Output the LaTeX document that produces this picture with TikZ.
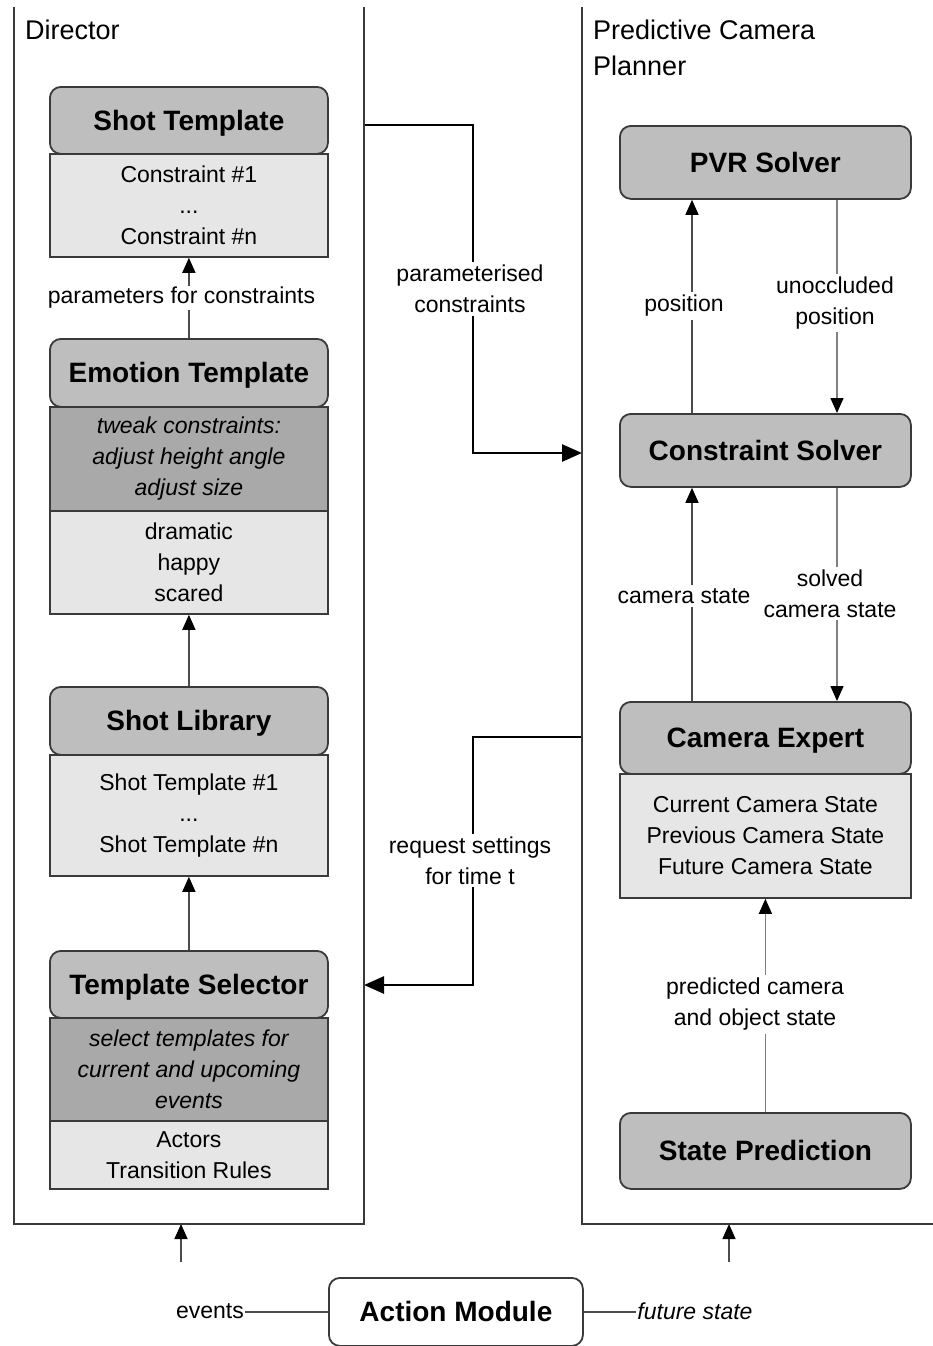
\documentclass[tikz,border=0pt]{standalone}
\usepackage{fontspec}
\setmainfont{Liberation Sans}
\usetikzlibrary{arrows.meta}
\pgfdeclarelayer{bg}
\pgfsetlayers{bg,main}

\definecolor{hdr}{HTML}{BEBEBE}
\definecolor{darkfill}{HTML}{A9A9A9}
\definecolor{lightfill}{HTML}{E6E6E6}
\definecolor{edge}{HTML}{3A3A3A}

\begin{document}
\begin{tikzpicture}[x=1pt,y=-1pt,
  every node/.style={inner sep=0pt},
  head/.style={draw=edge, line width=1.8pt, fill=hdr, rounded corners=11pt,
    anchor=north west, text height=20pt, text depth=0pt,
    font=\fontsize{28}{32}\selectfont\bfseries},
  body/.style={draw=edge, line width=1.8pt, fill=lightfill, anchor=north west,
    align=center, font=\fontsize{23}{31}\selectfont},
  note/.style={body, fill=darkfill, font=\fontsize{23}{31}\selectfont\itshape},
  lbl/.style={fill=white, align=center, inner sep=3pt, font=\fontsize{23}{31}\selectfont},
  title/.style={anchor=north west, align=left, font=\fontsize{27}{36}\selectfont},
  frame/.style={draw=edge, line width=1.8pt},
  plain/.style={line width=1.4pt, draw=black!70},
  conn/.style={plain, -{Triangle[length=15pt,width=13pt,color=black]}},
  connlt/.style={conn, draw=black!50},
  bold/.style={line width=2.6pt, draw=black, -{Triangle[length=20pt,width=17pt]}}
]
\useasboundingbox (0,0) rectangle (933,1346);

% frames of the two subsystems
\draw[frame] (14,7) -- (14,1224) -- (364,1224) -- (364,7);
\draw[frame] (933,1224) -- (582,1224) -- (582,7);
\node[title] (dir) at (25,20) {Director};
\node[title] (pcp) at (593,20) {Predictive Camera\\Planner};

% points on the frames
\coordinate (dirout) at (364,125);
\coordinate (dirin)  at (364,985);
\coordinate (pcpin)  at (582,453);
\coordinate (pcpout) at (582,737);
\coordinate (dirbot) at (181,1224);
\coordinate (pcpbot) at (729,1224);
\coordinate (evtop)  at (181,1262);
\coordinate (fstop)  at (729,1262);
\coordinate (xa) at (692,0);
\coordinate (xb) at (837,0);
\coordinate (xe) at (473,0);

% Director column
\node[body, minimum width=278, minimum height=103] (stb) at (49,153) {Constraint \#1\\...\\Constraint \#n};
\node[head, minimum width=278, minimum height=67] (st) at (49,86) {Shot Template};

\node[body, minimum width=278, minimum height=103] (emb) at (49,510) {dramatic\\happy\\scared};
\node[note, minimum width=278, minimum height=104] (emn) at (49,406) {tweak constraints:\\adjust height angle\\adjust size};
\node[head, minimum width=278, minimum height=68] (em) at (49,338) {Emotion Template};

\node[body, minimum width=278, minimum height=121] (slb) at (49,754) {Shot Template \#1\\...\\Shot Template \#n};
\node[head, minimum width=278, minimum height=68] (sl) at (49,686) {Shot Library};

\node[body, minimum width=278, minimum height=68] (tsb) at (49,1120) {Actors\\Transition Rules};
\node[note, minimum width=278, minimum height=103] (tsn) at (49,1017) {select templates for\\current and upcoming\\events};
\node[head, minimum width=278, minimum height=67] (ts) at (49,950) {Template Selector};

% Predictive camera planner column
\node[head, minimum width=291, minimum height=73] (pvr) at (619,125) {PVR Solver};
\node[head, minimum width=291, minimum height=73] (cs) at (619,413) {Constraint Solver};
\node[body, minimum width=291, minimum height=124] (ceb) at (619,773) {Current Camera State\\Previous Camera State\\Future Camera State};
\node[head, minimum width=291, minimum height=72] (ce) at (619,701) {Camera Expert};
\node[head, minimum width=291, minimum height=76] (sp) at (619,1112) {State Prediction};

% action module
\node[head, fill=white, minimum width=254, minimum height=68] (am) at (328,1277) {Action Module};

% connector labels
\node[lbl, inner sep=1.5pt] (l1) at (181.5,298) {parameters for constraints};
\node[lbl] (l2) at (470,289) {parameterised\\constraints};
\node[lbl] (l3) at (470,860.5) {request settings\\for time t};
\node[lbl] (l4) at (684,306) {position};
\node[lbl] (l5) at (835,303) {unoccluded\\position};
\node[lbl] (l6) at (684,596) {camera state};
\node[lbl] (l7) at (830,593.5) {solved\\camera state};
\node[lbl] (l8) at (755,1004.5) {predicted camera\\and object state};
\node[lbl, inner sep=1pt] (l9) at (210,1311) {events};
\node[lbl, inner sep=1pt, font=\fontsize{23}{31}\selectfont\itshape] (l10) at (695,1311) {future state};

\begin{pgfonlayer}{bg}
  \draw[conn] (em.north) -- (stb.south);
  \draw[conn] (sl.north) -- (emb.south);
  \draw[conn] (ts.north) -- (slb.south);
  \draw[conn] (cs.north -| xa) -- (pvr.south -| xa);
  \draw[connlt] (pvr.south -| xb) -- (cs.north -| xb);
  \draw[conn] (ce.north -| xa) -- (cs.south -| xa);
  \draw[connlt] (cs.south -| xb) -- (ce.north -| xb);
  \draw[connlt] (sp.north) -- (ceb.south);
  \draw[bold] (dirout) -- (dirout -| xe) -- (xe |- pcpin) -- (pcpin);
  \draw[bold] (pcpout) -- (pcpout -| xe) -- (xe |- dirin) -- (dirin);
  \draw[plain] (am.west) -- (am.west -| l9.east);
  \draw[conn] (evtop) -- (dirbot);
  \draw[plain] (am.east) -- (am.east -| l10.west);
  \draw[conn] (fstop) -- (pcpbot);
\end{pgfonlayer}
\end{tikzpicture}
\end{document}
